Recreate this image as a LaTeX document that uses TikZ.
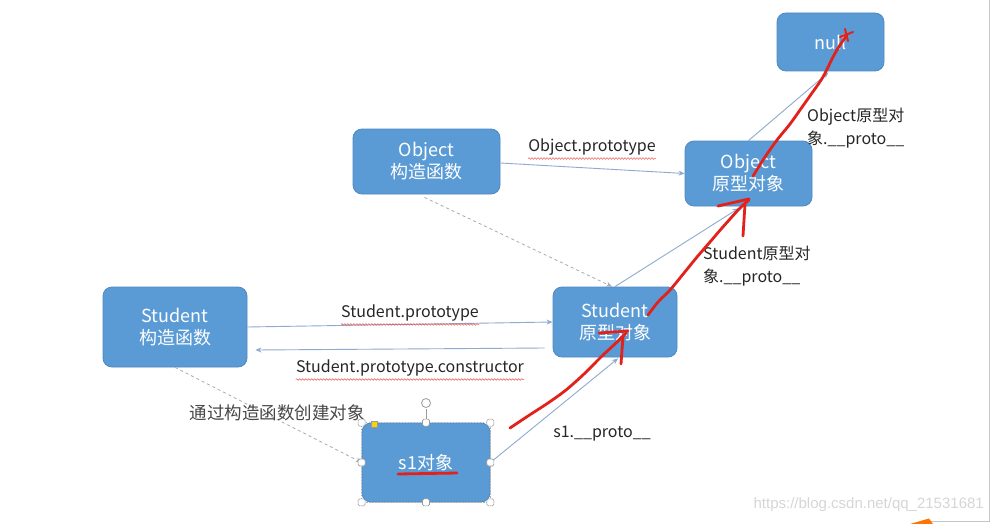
\documentclass[tikz,border=0pt]{standalone}
\usepackage{fontspec}
\newfontfamily\cjk{Noto Sans CJK SC}
\newfontfamily\wmfont{Liberation Sans}
\usetikzlibrary{arrows.meta,calc,decorations.pathmorphing}
\definecolor{boxfill}{HTML}{5B9BD5}
\definecolor{boxline}{HTML}{4F88C2}
\definecolor{conn}{HTML}{8FAAD0}
\definecolor{dash}{HTML}{A3ABB5}
\definecolor{pen}{HTML}{E3211B}
\definecolor{labtxt}{HTML}{262626}
\definecolor{wm}{HTML}{D6D6D6}
\definecolor{handle}{HTML}{9A9A9A}
\tikzset{
  bluebox/.style={draw=boxline, line width=0.8pt, fill=boxfill, rounded corners=9pt,
    text=white, font=\cjk\fontsize{18}{22}\selectfont, align=center, inner sep=0pt},
  link/.style={draw=conn, line width=0.9pt, -{Stealth[length=6pt,width=5pt]}},
  dashlink/.style={draw=dash, line width=0.8pt, dashed, -{Stealth[length=6pt,width=5pt]}},
  lab/.style={text=labtxt, font=\cjk\fontsize{16}{23}\selectfont, inner sep=0pt},
  spell/.style={draw=pen!80, line width=0.5pt, decorate,
    decoration={snake, amplitude=0.8pt, segment length=3pt}},
  redpen/.style={draw=pen, line width=2.8pt, line cap=round, line join=round},
  hnd/.style={draw=handle, fill=white, line width=0.6pt, minimum size=7pt, inner sep=0pt, rounded corners=1.5pt},
}
\begin{document}
\begin{tikzpicture}[x=1pt,y=-1pt]
\useasboundingbox (0,0) rectangle (992,524);
\fill[white] (0,0) rectangle (992,524);
% window edge
\draw[gray!45, line width=0.8pt] (989.5,0) -- (989.5,521) -- (930,521);
\fill[orange!90!red] (910,524) -- (929,518.5) -- (933,524) -- cycle;

% boxes
\node[bluebox, minimum width=107pt, minimum height=58pt] (null) at (830.5,42) {null};
\node[bluebox, minimum width=147pt, minimum height=65pt] (objctor) at (426.5,161.5) {Object\\构造函数};
\node[bluebox, minimum width=127pt, minimum height=65pt] (objproto) at (748.5,173.5) {Object\\原型对象};
\node[bluebox, minimum width=144pt, minimum height=80pt] (stuctor) at (175,327) {Student\\构造函数};
\node[bluebox, minimum width=124pt, minimum height=70pt] (stuproto) at (615,322) {Student\\原型对象};
\node[bluebox, minimum width=128pt, minimum height=79pt] (s1) at (426,462.5) {s1对象};
\draw[gray!60, line width=0.5pt, dashed, dash pattern=on 1.5pt off 1.5pt] (s1.south west) rectangle (s1.north east);

% connectors
\draw[link] ([yshift=-1.5pt]objctor.east) -- (objproto.west);
\draw[dashlink] ($(objctor.south)+(-2,3)$) -- ($(stuproto.north)+(-3,0)$);
\draw[link] (stuproto.north) -- ($(objproto.south)+(-10,2)$);
\draw[link] (objproto.north) -- ($(null.south)+(-2,1)$);
\draw[link] (stuctor.east) -- (stuproto.west);
\draw[link] ($(stuproto.west)+(-8,26)$) -- ($(stuctor.east)+(8,23)$);
\draw[dashlink] (stuctor.south) -- (s1.west);
\draw[link] (s1.east) -- ($(stuproto.south)+(3,1)$);

% labels
\node[lab] (l1) at (592,147) {Object.prototype};
\node[lab] (l2) at (410,313) {Student.prototype};
\node[lab] (l3) at (410,368) {Student.prototype.constructor};
\node[lab, font=\cjk\fontsize{17.5}{22}\selectfont, text=labtxt!85] (l4) at (277,413) {通过构造函数创建对象};
\node[lab] (l5) at (602,434) {s1.\_\_proto\_\_};
\node[lab, anchor=north west, align=left] (l6) at (807,108) {Object原型对\\象.\_\_proto\_\_};
\node[lab, anchor=north west, align=left] (l7) at (703,246) {Student原型对\\象.\_\_proto\_\_};
\draw[spell] ([yshift=-3pt]l1.south west) -- ([yshift=-3pt]l1.south east);
\draw[spell] ([yshift=-3pt]l2.south west) -- ([yshift=-3pt]l2.south east);
\draw[spell] ([yshift=-3pt]l3.south west) -- ([yshift=-3pt]l3.south east);

% selection handles on s1
\draw[handle, line width=0.6pt] (426,409) -- (s1.north);
\node[circle, draw=handle, fill=white, line width=0.8pt, minimum size=9pt, inner sep=0pt] (rot) at (426,403) {};
\foreach \a in {north west,north,north east,west,east,south west,south,south east}
  \node[hnd] at (s1.\a) {};
\node[draw=handle, fill=yellow!70!orange, minimum size=6pt, inner sep=0pt, line width=0.5pt] (adj) at (374,424) {};

% red hand-drawn strokes
\draw[redpen] plot[smooth] coordinates {(510,428) (528,416) (548,403) (566,390) (584,374) (602,356) (616,343) (626,333)};
\draw[redpen] (599,333) -- (628,331);
\draw[redpen] (623,336) -- (621,364);
\draw[redpen] plot[smooth] coordinates {(648,315) (658,302) (670,290) (684,273) (697,257) (710,242) (722,228) (740,208) (749,200)};
\draw[redpen] (718,206) -- (749,199);
\draw[redpen] (745,204) -- (743,236);
\draw[redpen] plot[smooth] coordinates {(753,176) (765,157) (777,140) (790,124) (800,110) (812,93) (823,77) (833,57) (840,45) (847,35)};
\draw[redpen, line width=2pt] (840,37) -- (853,32);
\draw[redpen, line width=2pt] (845,29) -- (848,41);
\draw[redpen] (398,474) -- (457,473);

% watermark
\node[text=wm, font=\wmfont\fontsize{15}{18}\selectfont, anchor=east, inner sep=0pt] (wmk) at (984,505) {https://blog.csdn.net/qq\_21531681};
\end{tikzpicture}
\end{document}
